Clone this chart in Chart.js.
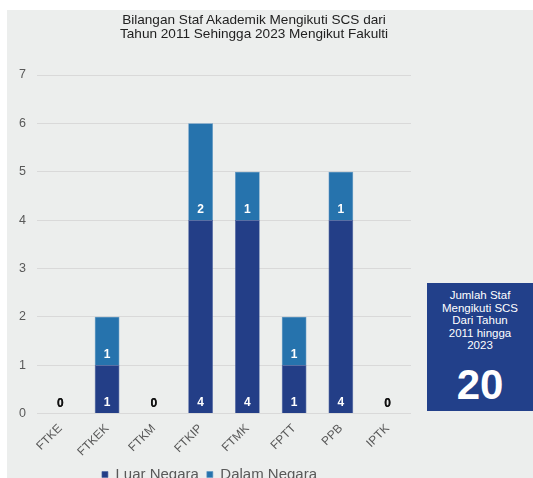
<!DOCTYPE html>
<html>
<head>
<meta charset="utf-8">
<script src="https://cdn.jsdelivr.net/npm/chart.js@4"></script>
<style>
  html, body { margin: 0; padding: 0; background: #fff; }
  body { width: 533px; height: 478px; overflow: hidden; position: relative; font-family: "Liberation Sans", Arial, sans-serif; }
  #panel { position: absolute; left: 7px; top: 10px; width: 526px; height: 490px; background: #eceeed; }
  #title { position: absolute; left: 97px; width: 300px; top: 3px; text-align: center; color: #222; font-size: 13.6px; line-height: 14px; }
  #wrap { position: absolute; left: 0; top: 0; width: 413px; height: 482px; }
  #box { position: absolute; left: 420px; top: 273px; width: 106px; height: 128px; background: #22408a; color: #fff; text-align: center; }
  #box .cap { font-size: 11.5px; line-height: 12.5px; margin-top: 6px; }
  #box .num { font-size: 42px; font-weight: bold; line-height: 42px; margin-top: 12px; }
</style>
</head>
<body>
<div id="panel">
  <div id="wrap"><canvas id="c"></canvas></div>
  <div id="title">Bilangan Staf Akademik Mengikuti SCS dari<br>Tahun 2011 Sehingga 2023 Mengikut Fakulti</div>
  <div id="box">
    <div class="cap">Jumlah Staf<br>Mengikuti SCS<br>Dari Tahun<br>2011 hingga<br>2023</div>
    <div class="num">20</div>
  </div>
</div>
<script>
const fakulti = ['FTKE', 'FTKEK', 'FTKM', 'FTKIP', 'FTMK', 'FPTT', 'PPB', 'IPTK'];
const luarNegara = [0, 1, 0, 4, 4, 1, 4, 0];
const dalamNegara = [0, 1, 0, 2, 1, 1, 1, 0];
const yTicks = [0, 1, 2, 3, 4, 5, 6, 7];

// labels near the base of each segment, like the Excel "inside base" style
const baseLabels = {
    id: 'baseLabels',
    afterDatasetsDraw(chart) {
        const ctx = chart.ctx;
        ctx.save();
        ctx.font = 'bold 12px "Liberation Sans", Arial, sans-serif';
        ctx.textAlign = 'center';
        ctx.textBaseline = 'middle';
        chart.data.datasets.forEach((ds, di) => {
            chart.getDatasetMeta(di).data.forEach((bar, i) => {
                const v = ds.data[i];
                ctx.fillStyle = v === 0 ? '#111' : '#fff';
                ctx.fillText(String(v), bar.x, bar.base - 10);
            });
        });
        ctx.restore();
    }
};

new Chart(document.getElementById('c'), {
    type: 'bar',
    data: {
        labels: fakulti,
        datasets: [
            { label: 'Luar Negara', data: luarNegara, backgroundColor: '#233e87', borderColor: '#4a63a0', borderWidth: 0.6, barPercentage: 0.53, categoryPercentage: 1 },
            { label: 'Dalam Negara', data: dalamNegara, backgroundColor: '#2673ad', borderColor: '#5a93c3', borderWidth: 0.6, barPercentage: 0.53, categoryPercentage: 1 }
        ]
    },
    options: {
        responsive: true,
        maintainAspectRatio: false,
        animation: false,
        layout: { padding: { left: 1, right: 9, top: 65, bottom: 0 } },
        plugins: {
            title: { display: false },
            legend: {
                position: 'bottom',
                labels: {
                    color: '#595959',
                    boxWidth: 6, boxHeight: 6,
                    padding: 8,
                    font: { size: 15, family: '"Liberation Sans", Arial, sans-serif' }
                }
            },
            tooltip: { enabled: false }
        },
        scales: {
            x: {
                stacked: true,
                grid: { display: false },
                border: { display: false },
                ticks: { color: '#595959', padding: 0, maxRotation: 45, minRotation: 45, font: { size: 12, family: '"Liberation Sans", Arial, sans-serif' } }
            },
            y: {
                stacked: true,
                min: 0, max: 7,
                afterBuildTicks: axis => { axis.ticks = yTicks.map(v => ({ value: v })); },
                grid: { color: '#d9d9d9', drawTicks: false },
                border: { display: false },
                ticks: { color: '#595959', padding: 11, font: { size: 12.5, family: '"Liberation Sans", Arial, sans-serif' } }
            }
        }
    },
    plugins: [baseLabels]
});
</script>
</body>
</html>
